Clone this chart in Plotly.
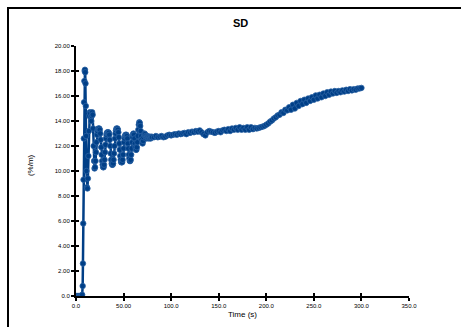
import plotly.graph_objects as go

# ---- data ----
# start-up and first spike
t_spike = [0, 1, 2, 3, 4, 5, 6, 6.5, 7, 7.3, 7.6, 7.9, 8.2, 8.5, 8.8, 9.1, 9.4, 9.7,
           10.0, 10.3, 10.6]
v_spike = [0, 0, 0, 0, 0, 0, 0, 0.1, 0.8, 2.6, 5.8, 9.3, 12.6, 15.5, 17.2, 18.0, 18.1, 17.9,
           17.0, 15.2, 12.8]

# oscillating part, sampled every 0.5 s from 11.0 s to 80.0 s
t_osc_start = 11.0
t_osc_step = 0.5
v_osc = [10.0, 8.7, 8.6, 9.4, 11.2, 13.2, 14.4, 14.7, 14.6, 14.3,
         14.0, 14.4, 14.7, 14.5, 13.4, 12.0, 10.8, 10.2, 10.3, 10.8,
         11.5, 12.3, 12.9, 13.2, 13.35, 13.4, 13.35, 13.4, 13.3, 13.0,
         12.5, 11.9, 11.3, 10.8, 10.5, 10.3, 10.3, 10.5, 10.9, 11.5,
         12.1, 12.6, 12.9, 13.05, 13.1, 13.0, 13.1, 13.05, 12.9, 12.5,
         12.0, 11.4, 10.9, 10.6, 10.5, 10.5, 10.6, 10.9, 11.4, 12.0,
         12.6, 13.0, 13.25, 13.4, 13.35, 13.4, 13.3, 13.1, 12.7, 12.2,
         11.7, 11.2, 10.9, 10.7, 10.7, 10.7, 10.9, 11.3, 11.8, 12.3,
         12.6, 12.8, 12.9, 12.85, 12.9, 12.8, 12.6, 12.2, 11.8, 11.3,
         11.0, 10.8, 10.8, 10.9, 11.3, 11.8, 12.3, 12.7, 12.95, 13.0,
         12.9, 12.6, 12.2, 11.9, 11.7, 11.7, 11.9, 12.3, 12.8, 13.3,
         13.7, 13.9, 13.85, 13.6, 13.2, 12.8, 12.5, 12.3, 12.2, 12.4,
         12.7, 12.9, 13.0, 12.95, 12.8, 12.7, 12.6, 12.7, 12.8, 12.75,
         12.7, 12.6, 12.7, 12.75, 12.65, 12.6, 12.7, 12.75, 12.7]

# slow drift, sampled every 2 s from 82 s to 300 s
t_late_start = 82
t_late_step = 2
v_late = [12.7, 12.8, 12.7, 12.75, 12.8, 12.7, 12.75, 12.85, 12.9, 12.85, 12.9, 12.95, 12.9, 13.0, 12.95, 13.0, 13.05, 12.95,
          13.1, 13.05, 13.15, 13.1, 13.2, 13.15, 13.25, 13.1, 12.95, 12.85, 13.1, 13.2, 13.15, 13.1, 13.05, 13.15,
          13.2, 13.1, 13.25, 13.3, 13.2, 13.35, 13.2, 13.4, 13.3, 13.45, 13.3, 13.5, 13.3, 13.45, 13.3, 13.5,
          13.3, 13.5, 13.35, 13.45, 13.4, 13.45, 13.5, 13.55, 13.6, 13.7, 13.8, 13.95, 14.05, 14.2, 14.3, 14.45,
          14.5, 14.7, 14.65, 14.9, 14.85, 15.1, 14.9, 15.3, 15.0, 15.45, 15.2, 15.6, 15.35, 15.7, 15.45, 15.8,
          15.6, 15.9, 15.7, 16.05, 15.8, 16.1, 15.9, 16.2, 16.0, 16.3, 16.1, 16.35, 16.2, 16.4, 16.25, 16.4,
          16.3, 16.45, 16.35, 16.5, 16.4, 16.55, 16.45, 16.55, 16.5, 16.6, 16.6, 16.65]

x_tickvals = [0, 50, 100, 150, 200, 250, 300, 350]
x_ticktext = ["0.0", "50.00", "100.0", "150.0", "200.0", "250.0", "300.0", "350.0"]
y_tickvals = [0, 2, 4, 6, 8, 10, 12, 14, 16, 18, 20]
y_ticktext = ["0.0", "2.00", "4.00", "6.00", "8.00", "10.00", "12.00", "14.00", "16.00", "18.00", "20.00"]

title_text = "SD"
x_title = "Time (s)"
y_title = "(%/m)"

color = "#003F87"
font_family = "Liberation Sans, Arial, sans-serif"

t_osc = [t_osc_start + t_osc_step * i for i in range(len(v_osc))]
t_late = [t_late_start + t_late_step * i for i in range(len(v_late))]
t_all = t_spike + t_osc + t_late
v_all = v_spike + v_osc + v_late

fig = go.Figure()
fig.add_trace(go.Scatter(
    x=t_all, y=v_all, mode="lines+markers",
    line=dict(color=color, width=2.5),
    marker=dict(symbol="circle", size=5.5, color=color, line=dict(color="#2a62a3", width=0.8)),
    showlegend=False, hoverinfo="skip",
))
# invisible trace on overlay axes so that inside ticks are drawn (crossing ticks)
fig.add_trace(go.Scatter(x=[None], y=[None], xaxis="x2", yaxis="y2", showlegend=False,
                         mode="markers", marker=dict(opacity=0)))

axis_common = dict(showgrid=False, zeroline=False, showline=True, linecolor="black",
                   linewidth=2, ticks="outside", ticklen=3, tickwidth=2, tickcolor="black",
                   tickfont=dict(family=font_family, size=6, color="black"))

fig.update_layout(
    width=461, height=327,
    margin=dict(l=76, r=52, t=46, b=31),
    paper_bgcolor="white", plot_bgcolor="white",
    font=dict(family=font_family, color="black"),
    xaxis=dict(range=[0, 350], tickmode="array", tickvals=x_tickvals, ticktext=x_ticktext, **axis_common),
    yaxis=dict(range=[0, 20], tickmode="array", tickvals=y_tickvals, ticktext=y_ticktext, **axis_common),
    xaxis2=dict(range=[0, 350], overlaying="x", anchor="y2", showgrid=False, zeroline=False,
                showline=False, ticks="inside", ticklen=3, tickwidth=2, tickcolor="black",
                tickmode="array", tickvals=x_tickvals, showticklabels=False),
    yaxis2=dict(range=[0, 20], overlaying="y", anchor="x2", showgrid=False, zeroline=False,
                showline=False, ticks="inside", ticklen=3, tickwidth=2, tickcolor="black",
                tickmode="array", tickvals=y_tickvals, showticklabels=False),
    shapes=[dict(type="rect", xref="paper", yref="paper",
                 x0=-0.2042, x1=1.5, y0=-0.5, y1=1.152,
                 line=dict(color="black", width=2), fillcolor="rgba(0,0,0,0)", layer="above")],
    annotations=[
        dict(text="<b>" + title_text + "</b>", xref="paper", yref="paper", x=0.4925, y=1.092,
             showarrow=False, font=dict(size=11, family=font_family), xanchor="center", yanchor="middle"),
        dict(text=x_title, xref="paper", yref="paper", x=0.4985, y=-0.072,
             showarrow=False, font=dict(size=8, family=font_family), xanchor="center", yanchor="middle"),
        dict(text=y_title, xref="paper", yref="paper", x=-0.138, y=0.524, textangle=-90,
             showarrow=False, font=dict(size=8, family=font_family), xanchor="center", yanchor="middle"),
    ],
)

fig.write_html("out.html")
